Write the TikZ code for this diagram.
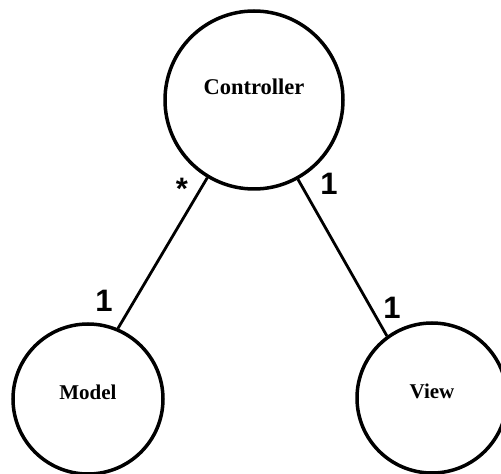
\documentclass[tikz,border=0pt]{standalone}
\usepackage{fontspec}
\setmainfont{Liberation Serif}
\newfontfamily\multfont{Liberation Sans}
\usepackage{tikz}

\begin{document}
\begin{tikzpicture}[x=1pt,y=1pt,
  class/.style={circle,draw,line width=3.5pt,inner sep=0pt},
  classname/.style={font=\bfseries\fontsize{#1}{#1}\selectfont},
  mult/.style={font=\multfont\bfseries\fontsize{31}{31}\selectfont,inner sep=0pt}]
\useasboundingbox (0,0) rectangle (501,474);
\node [class,minimum size=178pt,label={[yshift=13pt,classname=22.5]center:Controller}] (ctrl) at (254,374) {};
\node [class,minimum size=150pt,label={[yshift=7pt,classname=21]center:Model}] (model) at (88,75) {};
\node [class,minimum size=150pt,label={[yshift=7pt,classname=21]center:View}] (view) at (432,76) {};
\draw [line width=2.8pt] (ctrl.239) -- (model.67);
\draw [line width=2.8pt] (ctrl.299) -- (view.126);
\node [mult] (mstar) at (182,285) {*};
\node [mult] (mone) at (104,173) {1};
\node [mult] (cone) at (329,290) {1};
\node [mult] (vone) at (392,166) {1};
\end{tikzpicture}
\end{document}
